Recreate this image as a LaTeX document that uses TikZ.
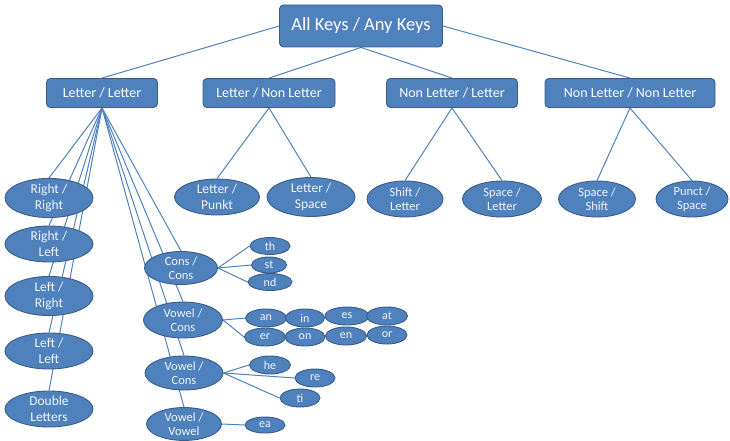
\documentclass[tikz,border=0pt]{standalone}
\usepackage{fontspec}
\setmainfont{Carlito}
\usetikzlibrary{shapes.geometric,backgrounds}
\definecolor{artfill}{HTML}{4F81BD}
\definecolor{artline}{HTML}{385D8A}
\tikzset{
  keybox/.style={rectangle, rounded corners=4pt, draw=artline, fill=artfill, text=white, line width=0.9pt, inner sep=0pt},
  pairell/.style={ellipse, draw=artline, fill=artfill, text=white!92!artfill, line width=0.9pt, inner sep=0pt, minimum width=88pt, minimum height=34pt, font=\fontsize{13.5}{16}\selectfont, align=center},
  smallpair/.style={pairell, font=\fontsize{12.5}{14.5}\selectfont},
  gramell/.style={ellipse, draw=artline, fill=artfill, text=white!92!artfill, line width=0.9pt, inner sep=0pt, minimum width=41pt, minimum height=18pt, font=\fontsize{12}{12}\selectfont},
  link/.style={draw=artfill, line width=1pt}
}
\begin{document}
\begin{tikzpicture}[x=1pt, y=-1pt]
        \useasboundingbox (0,0) rectangle (730,441);

        % Nodes
        \node (all) at (361,26) [keybox, minimum width=163pt, minimum height=42pt, font=\fontsize{18.5}{18.5}\selectfont] {All Keys / Any Keys};
        \node (ll) at (102,93) [keybox, minimum width=111pt, minimum height=29pt, font=\fontsize{14}{14}\selectfont] {Letter / Letter};
        \node (ln) at (269,93) [keybox, minimum width=132pt, minimum height=29pt, font=\fontsize{14}{14}\selectfont] {Letter / Non Letter};
        \node (nl) at (452,93) [keybox, minimum width=131pt, minimum height=29pt, font=\fontsize{14}{14}\selectfont] {Non Letter / Letter};
        \node (nn) at (630,93) [keybox, minimum width=170pt, minimum height=29pt, font=\fontsize{14}{14}\selectfont] {Non Letter / Non Letter};

        \node (lpunkt) at (217,197) [pairell, minimum width=85pt] {Letter /\\Punkt};
        \node (lspace) at (311,197) [pairell, minimum width=88pt] {Letter /\\Space};
        \node (shiftl) at (405,199) [smallpair, minimum width=76pt, minimum height=36pt] {Shift /\\Letter};
        \node (spacel) at (502,199) [smallpair, minimum width=79pt, minimum height=36pt] {Space /\\Letter};
        \node (spaces) at (597,199) [smallpair, minimum width=77pt, minimum height=36pt] {Space /\\Shift};
        \node (punctsp) at (692,199) [smallpair, minimum width=72pt, minimum height=36pt] {Punct /\\Space};

        \node (rr) at (49,198) [pairell] {Right /\\Right};
        \node (rl) at (49,244) [pairell] {Right /\\Left};
        \node (lr) at (49,296) [pairell] {Left /\\Right};
        \node (lleft) at (49,351) [pairell] {Left /\\Left};
        \node (dbl) at (49,409) [pairell] {Double\\Letters};

        \node (cc) at (181,268) [smallpair, minimum width=73pt, minimum height=33pt] {Cons /\\Cons};
        \node (vc) at (183,320) [smallpair, minimum width=79pt, minimum height=36pt] {Vowel /\\Cons};
        \node (vctwo) at (184,373) [smallpair, minimum width=78pt, minimum height=34pt] {Vowel /\\Cons};
        \node (vv) at (184,424) [smallpair, minimum width=75pt, minimum height=32pt] {Vowel /\\Vowel};

        \node (th) at (270,246) [gramell, minimum width=40pt, minimum height=17pt] {th};
        \node (st) at (269,265) [gramell, minimum width=35pt, minimum height=16pt] {st};
        \node (nd) at (270,282) [gramell, minimum width=44pt, minimum height=17pt] {nd};
        \node (an) at (266,318) [gramell] {an};
        \node (in) at (305,318) [gramell, minimum width=39pt] {in};
        \node (es) at (347,316) [gramell, minimum width=44pt] {es};
        \node (at) at (387,316) [gramell] {at};
        \node (er) at (265,337) [gramell] {er};
        \node (on) at (305,337) [gramell, minimum width=40pt] {on};
        \node (en) at (346,336) [gramell] {en};
        \node (or) at (387,335) [gramell, minimum width=40pt] {or};
        \node (he) at (270,365) [gramell] {he};
        \node (re) at (315,378) [gramell, minimum width=40pt] {re};
        \node (ti) at (300,398) [gramell, minimum width=40pt] {ti};
        \node (ea) at (265,425) [gramell, minimum width=40pt, minimum height=16pt] {ea};

        % Edges
        \begin{pgfonlayer}{background}
        \draw[link] (all.west) -- (ll.north);
        \draw[link] (all.south) -- (ln.north);
        \draw[link] (all.south) -- (nl.north);
        \draw[link] (all.east) -- (nn.north);

        \draw[link] (ln.south) -- (lpunkt.north);
        \draw[link] (ln.south) -- (lspace.north);
        \draw[link] (nl.south) -- (shiftl.north);
        \draw[link] (nl.south) -- (spacel.north);
        \draw[link] (nn.south) -- (spaces.north);
        \draw[link] (nn.south) -- (punctsp.north);

        \foreach \kid in {rr, rl, lr, lleft, dbl, cc, vc, vctwo, vv}
          \draw[link] (ll.south) -- (\kid.north);

        \draw[link] (cc.east) -- (th.west);
        \draw[link] (cc.east) -- (st.west);
        \draw[link] (cc.east) -- (nd.west);
        \draw[link] (vc.east) -- (an.west);
        \draw[link] (vc.east) -- (er.west);
        \draw[link] (vctwo.east) -- (he.west);
        \draw[link] (vctwo.east) -- (re.west);
        \draw[link] (vctwo.east) -- (ti.west);
        \draw[link] (vv.east) -- (ea.west);
        \end{pgfonlayer}
    \end{tikzpicture}
\end{document}
